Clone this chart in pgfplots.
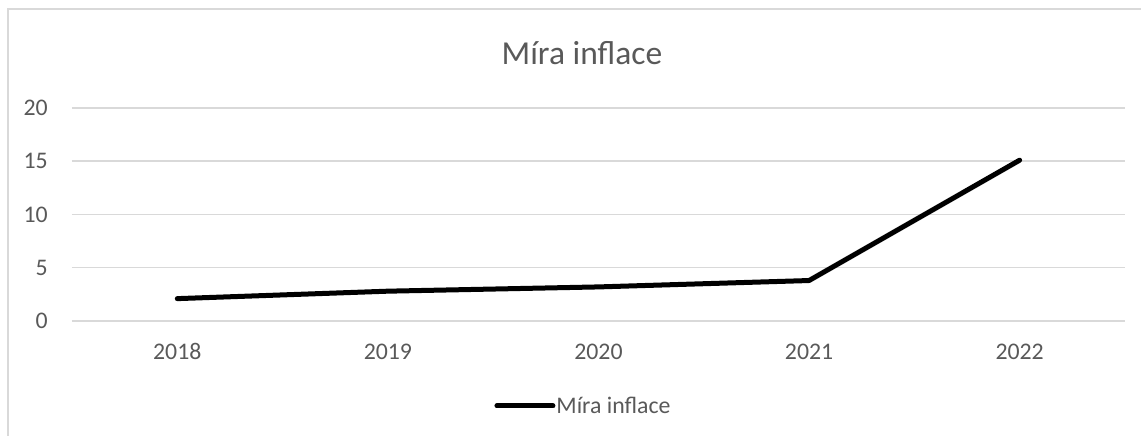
\documentclass[border=0pt]{standalone}
\usepackage{pgfplots}
\pgfplotsset{compat=1.18}
\usepackage{fontspec}
\setmainfont{Carlito}
\definecolor{txt}{HTML}{595959}
\definecolor{grd}{HTML}{D9D9D9}
\begin{document}
\begin{tikzpicture}[x=1pt,y=1pt]
\path[use as bounding box] (-72,-115) rectangle (1069,321);
\draw[grd, line width=2pt] (-64,-130) -- (-64,311.5) -- (1080,311.5);
\begin{axis}[
  at={(0,0)}, anchor=south west,
  scale only axis, width=1053pt, height=213pt,
  xmin=-0.5, xmax=4.5, ymin=0, ymax=20,
  xtick={0,1,2,3,4},
  xticklabels={2018,2019,2020,2021,2022},
  ytick={0,5,10,15,20},
  ymajorgrids, grid style={grd, line width=1.5pt},
  axis line style={draw=none},
  major tick length=0pt,
  /pgf/number format/assume math mode=true,
  tick label style={font=\fontsize{23.8}{28}\selectfont, text=txt},
  xticklabel style={anchor=base, yshift=-38pt, inner sep=0pt},
  yticklabel style={anchor=east, xshift=-24pt, inner sep=0pt},
  legend style={at={(0.4858,-0.399)}, anchor=center, draw=none, fill=none,
    font=\fontsize{23.8}{28}\selectfont, text=txt, inner sep=0pt,
    /tikz/every even column/.append style={column sep=0pt}},
  legend cell align=left,
  legend image code/.code={\draw[#1, line cap=round] (0pt,0pt) -- (56pt,0pt);},
  clip=false,
]
\addplot[black, line width=5pt, line cap=round, line join=round] coordinates {
  (0,2.1) (1,2.8) (2,3.2) (3,3.8) (4,15.1)
};
\addlegendentry{\hspace{-1pt}Míra inflace}
\end{axis}
\node[anchor=base, font=\fontsize{33.5}{40}\selectfont, text=txt] at (510,256) {Míra inflace};
\end{tikzpicture}
\end{document}
